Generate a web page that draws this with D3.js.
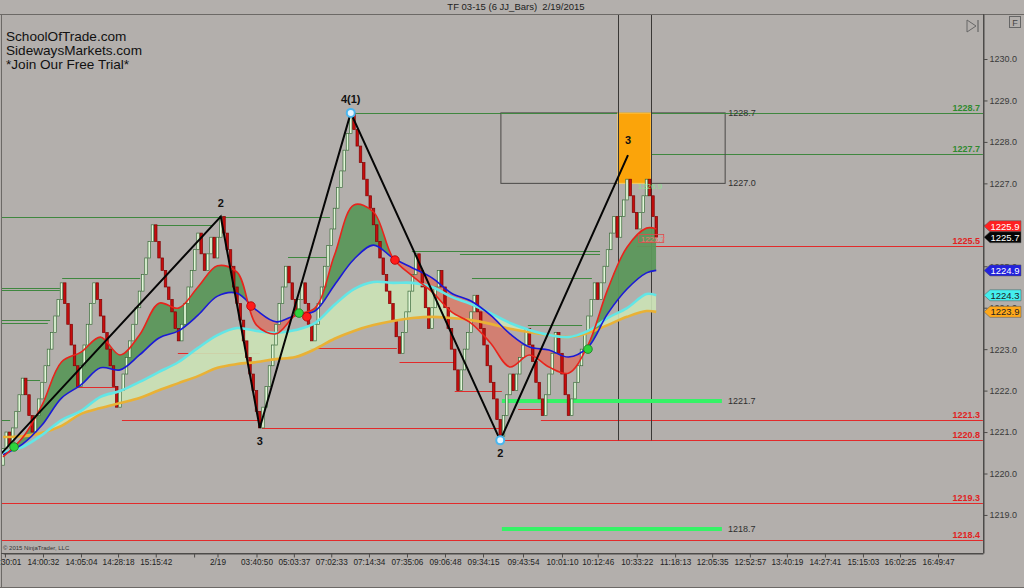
<!DOCTYPE html>
<html><head><meta charset="utf-8">
<script src="https://cdn.jsdelivr.net/npm/d3@7"></script>
<style>
html,body{margin:0;padding:0;background:#b3afac;}
svg{display:block;font-family:Arial,"Liberation Sans",sans-serif;}
</style></head><body>
<svg id="c" width="1024" height="588"></svg>
<script>
// ---------------- DATA ----------------
const chartTitle = "TF 03-15 (6 JJ_Bars)  2/19/2015";
const promoLines = ["SchoolOfTrade.com", "SidewaysMarkets.com", "*Join Our Free Trial*"];
const copyright = "\u00A9 2015 NinjaTrader, LLC";

const firstOpen = 1220.2;
const closes = [
1220.6,1221.0,1220.7,1221.1,1221.5,1221.9,1222.3,1221.9,1221.4,1221.0,
1221.4,1221.8,1222.2,1222.6,1223.0,1223.4,1223.8,1224.2,1224.6,1224.1,
1223.6,1223.1,1222.6,1222.1,1222.6,1223.1,1223.6,1224.1,1224.6,1224.2,
1223.8,1223.4,1223.0,1222.6,1222.1,1221.6,1222.0,1222.4,1222.8,1223.2,
1223.6,1224.0,1224.4,1224.8,1225.2,1225.6,1226.0,1225.6,1225.2,1224.9,
1224.5,1224.2,1223.9,1223.5,1223.2,1223.6,1224.1,1224.5,1224.9,1225.4,
1225.8,1225.3,1224.9,1225.3,1225.7,1225.2,1225.7,1226.2,1225.8,1225.4,
1225.0,1224.5,1224.1,1223.7,1223.2,1222.8,1222.4,1222.0,1221.5,1221.1,
1221.6,1222.1,1222.6,1223.1,1223.6,1224.1,1224.5,1225.0,1224.6,1224.2,
1223.8,1224.2,1224.6,1224.1,1223.6,1223.2,1223.6,1224.1,1224.5,1225.0,
1225.5,1225.9,1226.4,1226.9,1227.3,1227.8,1228.2,1228.7,1228.3,1227.9,
1227.5,1227.1,1226.7,1226.4,1226.0,1225.6,1225.2,1224.8,1224.4,1224.1,
1223.7,1223.3,1222.9,1223.4,1223.9,1224.4,1224.8,1225.3,1224.9,1224.5,
1224.0,1223.5,1224.0,1224.5,1224.9,1224.5,1224.0,1223.5,1223.0,1222.5,
1222.0,1222.5,1223.0,1223.4,1223.9,1224.3,1223.9,1223.5,1223.1,1222.6,
1222.2,1221.8,1221.3,1220.9,1221.4,1221.9,1222.4,1222.0,1222.4,1222.8,
1223.1,1223.5,1223.1,1222.7,1222.2,1221.8,1221.4,1221.9,1222.4,1222.9,
1223.4,1222.9,1222.4,1221.9,1221.4,1221.8,1222.2,1222.6,1223.0,1223.4,
1223.8,1224.2,1224.6,1224.2,1224.6,1225.0,1225.4,1225.8,1226.2,1225.7,
1226.2,1226.6,1227.1,1226.7,1226.3,1225.9,1226.3,1226.7,1227.1,1226.7,
1226.2,1225.7
];

// moving averages sampled at bar positions
const maIdx = [0,6,12,18,24,30,36,42,48,54,60,66,72,78,84,90,96,102,108,114,120,126,132,138,144,150,156,162,168,174,180,186,192,198,201];
const maFast = [1220.40,1220.86,1221.65,1222.69,1222.93,1223.29,1222.86,1223.34,1224.11,1223.99,1224.50,1225.01,1224.86,1223.58,1223.37,1223.82,1223.99,1225.27,1226.48,1226.31,1225.20,1224.76,1224.38,1223.90,1223.63,1223.15,1222.57,1222.86,1222.57,1222.42,1223.10,1224.43,1225.46,1225.92,1225.90];
const maMid = [1220.45,1220.71,1221.17,1221.82,1222.14,1222.55,1222.50,1222.86,1223.27,1223.44,1223.82,1224.28,1224.35,1223.94,1223.66,1223.82,1223.92,1224.55,1225.17,1225.51,1225.20,1224.96,1224.72,1224.35,1224.16,1223.82,1223.37,1223.05,1222.98,1222.81,1223.05,1223.85,1224.45,1224.84,1224.90];
const maSlow = [1220.52,1220.64,1220.93,1221.29,1221.51,1221.85,1221.99,1222.21,1222.45,1222.69,1223.03,1223.34,1223.51,1223.44,1223.39,1223.46,1223.63,1224.07,1224.45,1224.62,1224.60,1224.60,1224.50,1224.26,1224.09,1223.87,1223.63,1223.46,1223.34,1223.29,1223.44,1223.75,1223.99,1224.33,1224.30];
const maLong = [1220.88,1220.90,1220.98,1221.15,1221.44,1221.58,1221.70,1221.82,1222.01,1222.18,1222.35,1222.55,1222.64,1222.69,1222.76,1222.81,1223.00,1223.25,1223.44,1223.58,1223.68,1223.75,1223.78,1223.75,1223.70,1223.61,1223.49,1223.41,1223.34,1223.29,1223.39,1223.58,1223.78,1223.92,1223.90];

// zigzag
const zigIdx = [-0.9, 67, 79, 107, 153, 192.3];
const zigPrice = [1220.45, 1226.2, 1221.1, 1228.7, 1220.8, 1227.68];
const pivotLabels = ["2", "3", "4(1)", "2", "3"];
const pivotSide = ["up", "down", "up", "down", "box"];
const pivotRings = [3, 4]; // zigzag points with a ring marker

// horizontal swing levels: price, from bar, to bar, kind
const levelPrice = [1226.19,1228.7,1227.7,1224.48,1224.43,1224.72,1223.70,1223.63,1222.26,1221.28,1226.0,1225.22,1225.38,1225.30,1224.72,1223.58,
                    1225.5,1221.3,1220.8,1219.3,1218.4,1221.1,1221.3,1222.09,1222.9,1223.03,1222.69,1222.0,1221.55];
const levelFrom  = [-0.9,107.4,192.3,-0.9,-0.9,18.2,-0.9,-0.9,6.2,-0.9,46.2,87.7,125.8,140.6,144.3,161.5,
                    195.1,165.5,153.2,-0.9,-0.9,79.7,36.6,23,53.8,94.5,122,139,158.5];
const levelTo    = [100.6,301.5,301.5,17.5,17.5,42.2,14.5,13.8,11.4,2.2,64.6,100,183.7,183.7,181.2,178.2,
                    301.5,301.5,301.5,301.5,301.5,153.2,78.5,34.5,79,121.2,139,153.5,165.8];
const levelKind  = ["g","g","g","g","g","g","g","g","g","g","g","g","g","g","g","g",
                    "r","r","r","r","r","r","r","r","r","r","r","r","r"];

// labels at right edge of price panel
const edgeLabelPrice = [1228.7,1227.7,1225.5,1221.3,1220.8,1219.3,1218.4];
const edgeLabelKind  = ["g","g","r","r","r","r","r"];

// projection box
const boxFrom = 153.2, boxTo = 222.2, boxHigh = 1228.7, boxLow = 1227.0;
const zoneFrom = 189.2, zoneTo = 199.4;
const boxLabels = ["1228.7", "1227.0"];
const targetPrice = [1221.75, 1218.66];
const targetLabels = ["1221.7", "1218.7"];
const targetFrom = 153.5, targetTo = 221.2;
const vlineIdx = [189.2, 199.4];
const vlineBottom = 1220.8;

// signal dots
const dotIdx = [3.4, 91.1, 180, 76.3, 93.5, 120.6];
const dotPrice = [1220.64, 1223.87, 1223.0, 1224.04, 1223.78, 1225.15];
const dotKind = ["g","g","g","r","r","r"];

// small tags on chart
const smallTag = {idx: 195.6, price: 1225.62, text: "1225.7"};
const fadedTag = {idx: 195.3, price: 1226.93, text: "1226.9"};

// right axis tags
const tagPrice = [1225.9, 1225.7, 1224.9, 1224.3, 1223.9];
const tagKind  = ["fast","last","mid","slow","long"];

// price axis
const yTicks = [1219,1220,1221,1222,1223,1224,1225,1226,1227,1228,1229,1230];
// time axis (bar slot positions)
const xTickIdx = [0.6,12.3,24,35.4,47,58.8,66,78,89.5,101,112.6,124.3,136,147.7,160,172,183,195,206.8,218.2,229.8,241.2,252.9,264.6,276,287.7];
const xTickLabels = ["13:30:01","14:00:32","14:05:04","14:28:18","15:15:42","","2/19","03:40:50","05:03:37","07:02:33","07:14:34","07:35:06","09:06:48","09:34:15","09:43:54","10:01:10","10:12:46","10:33:22","11:18:13","12:05:35","12:52:57","13:40:19","14:27:41","15:15:03","16:02:25","16:49:47"];

// ---------------- DRAW ----------------
const svg = d3.select("#c");
const P = {l:1, r:983, t:14, b:553};
const x = d3.scaleLinear().domain([0, 301.54]).range([3, 983]);
const y = d3.scaleLinear().domain([1218.082, 1231.086]).range([553, 14]);

const COL = {bg:"#b3afac", g:"#3f873f", r:"#e22a2a", fast:"#e8241c", mid:"#1a1ad6", slow:"#62e6e6", long:"#e9b136"};

svg.append("rect").attr("width",1024).attr("height",588).attr("fill",COL.bg);

const defs = svg.append("defs");
defs.append("clipPath").attr("id","plotClip").append("rect")
  .attr("x",P.l).attr("y",P.t).attr("width",P.r-P.l).attr("height",P.b-P.t);

const ma = maIdx.map((i,k)=>({i, f:maFast[k], m:maMid[k], s:maSlow[k], o:maLong[k]}));
const curve = d3.curveCatmullRom;

const above = key => d3.area().x(d=>x(d.i)).y0(d=>y(d[key])).y1(-50).curve(curve);
const below = key => d3.area().x(d=>x(d.i)).y0(d=>y(d[key])).y1(700).curve(curve);
defs.append("clipPath").attr("id","aboveMid").append("path").attr("d", above("m")(ma));
defs.append("clipPath").attr("id","belowMid").append("path").attr("d", below("m")(ma));
defs.append("clipPath").attr("id","aboveLong").append("path").attr("d", above("o")(ma));

const root = svg.append("g").attr("clip-path","url(#plotClip)");

// title
svg.append("text").attr("x",516).attr("y",10).attr("text-anchor","middle").style("white-space","pre")
  .attr("font-size",9.5).attr("fill","#222").text(chartTitle);

// frame lines
svg.append("line").attr("x1",0).attr("x2",1024).attr("y1",14.5).attr("y2",14.5).attr("stroke","#6c6966");
svg.append("line").attr("x1",1.5).attr("x2",1.5).attr("y1",14).attr("y2",588).attr("stroke","#6c6966");
svg.append("line").attr("x1",0).attr("x2",1024).attr("y1",587.5).attr("y2",587.5).attr("stroke","#6c6966");

// swing levels
const lv = root.append("g");
levelPrice.forEach((p,k)=>{
  lv.append("line").attr("x1",x(levelFrom[k])).attr("x2",x(levelTo[k]))
    .attr("y1",Math.round(y(p))+0.5).attr("y2",Math.round(y(p))+0.5)
    .attr("stroke", levelKind[k]==="g"?COL.g:COL.r).attr("stroke-width",1);
});

// projection box
lv.append("rect").attr("x",x(boxFrom)).attr("y",y(boxHigh)).attr("width",x(boxTo)-x(boxFrom))
  .attr("height",y(boxLow)-y(boxHigh)).attr("fill","none").attr("stroke","#4a4846").attr("stroke-width",1);
lv.append("line").attr("x1",x(boxFrom)).attr("x2",x(301.5)).attr("y1",Math.round(y(boxHigh))+0.5).attr("y2",Math.round(y(boxHigh))+0.5).attr("stroke",COL.g);
lv.append("rect").attr("x",x(zoneFrom)).attr("y",y(boxHigh)).attr("width",x(zoneTo)-x(zoneFrom))
  .attr("height",y(boxLow)-y(boxHigh)).attr("fill","#fba40a").attr("stroke","#ffd36a").attr("stroke-width",1);
vlineIdx.forEach(i=>{
  lv.append("line").attr("x1",Math.round(x(i))+0.5).attr("x2",Math.round(x(i))+0.5)
    .attr("y1",P.t).attr("y2",y(vlineBottom)).attr("stroke","#3a3836").attr("stroke-width",1);
});
targetPrice.forEach(p=>{
  lv.append("line").attr("x1",x(targetFrom)).attr("x2",x(targetTo)).attr("y1",y(p)).attr("y2",y(p))
    .attr("stroke","#35f266").attr("stroke-width",4);
});

// indicator fills
const band = (a,b)=>d3.area().x(d=>x(d.i)).y0(d=>y(d[a])).y1(d=>y(d[b])).curve(curve);
root.append("path").attr("d",band("o","s")(ma)).attr("fill","#cbe3b6").attr("opacity",0.9).attr("clip-path","url(#aboveLong)");
root.append("path").attr("d",band("m","f")(ma)).attr("fill","#5c975b").attr("opacity",0.95).attr("clip-path","url(#aboveMid)");
root.append("path").attr("d",band("m","f")(ma)).attr("fill","#d57a6c").attr("opacity",0.9).attr("clip-path","url(#belowMid)");

// bars
const bw = 2.5;
const bars = root.append("g");
closes.forEach((c,i)=>{
  const o = i===0 ? firstOpen : closes[i-1];
  const up = c >= o;
  const y1 = y(Math.max(o,c)), y2 = y(Math.min(o,c));
  bars.append("rect").attr("x",x(i)-bw/2).attr("y",y1).attr("width",bw).attr("height",Math.max(1,y2-y1))
    .attr("fill", up?"#e2f7d8":"#c60d0d").attr("stroke", up?"#3b6a3b":"#7d0505").attr("stroke-width",0.7);
});

// indicator lines
const line = key=>d3.line().x(d=>x(d.i)).y(d=>y(d[key])).curve(curve);
root.append("path").attr("d",line("o")(ma)).attr("fill","none").attr("stroke",COL.long).attr("stroke-width",2.6);
root.append("path").attr("d",line("s")(ma)).attr("fill","none").attr("stroke",COL.slow).attr("stroke-width",2.6);
root.append("path").attr("d",line("m")(ma)).attr("fill","none").attr("stroke",COL.mid).attr("stroke-width",1.6);
root.append("path").attr("d",line("f")(ma)).attr("fill","none").attr("stroke",COL.fast).attr("stroke-width",1.6);

// small tags
root.append("rect").attr("x",x(smallTag.idx)).attr("y",y(smallTag.price)-6).attr("width",25).attr("height",8)
  .attr("fill","none").attr("stroke","#e24a4a").attr("stroke-width",0.8);
root.append("text").attr("x",x(smallTag.idx)+2).attr("y",y(smallTag.price)+1).attr("font-size",8)
  .attr("fill","#f07070").text(smallTag.text);
root.append("text").attr("x",x(fadedTag.idx)).attr("y",y(fadedTag.price)+3).attr("font-size",8)
  .attr("fill","#8ee08e").text(fadedTag.text);

// zigzag
const zig = zigIdx.map((i,k)=>({i, p:zigPrice[k]}));
root.append("path").attr("d", d3.line().x(d=>x(d.i)).y(d=>y(d.p))(zig))
  .attr("fill","none").attr("stroke","#050505").attr("stroke-width",2);
pivotRings.forEach(k=>{
  root.append("circle").attr("cx",x(zigIdx[k])).attr("cy",y(zigPrice[k])).attr("r",4)
    .attr("fill","#e6f5ff").attr("stroke","#4ab6ee").attr("stroke-width",2);
});
pivotLabels.forEach((t,j)=>{
  const k=j+1, side=pivotSide[j];
  const yy = side==="up" ? y(zigPrice[k])-10 : side==="down" ? y(zigPrice[k])+17 : y(zigPrice[k])-11;
  root.append("text").attr("x",x(zigIdx[k])).attr("y",yy).attr("text-anchor","middle")
    .attr("font-size",11).attr("font-weight","bold").attr("fill","#111").text(t);
});

// signal dots
dotIdx.forEach((i,k)=>{
  root.append("circle").attr("cx",x(i)).attr("cy",y(dotPrice[k])).attr("r",4.3)
    .attr("fill", dotKind[k]==="g"?"#2ed33c":"#ff1b1b").attr("stroke", dotKind[k]==="g"?"#1c7a22":"#b00000").attr("stroke-width",0.8);
});

// level labels
edgeLabelPrice.forEach((p,k)=>{
  svg.append("text").attr("x",980).attr("y",y(p)-2).attr("text-anchor","end")
    .attr("font-size",9).attr("font-weight","bold").attr("fill", edgeLabelKind[k]==="g"?"#2f8a2f":"#e02222").text(p.toFixed(1));
});
[boxHigh, boxLow].forEach((p,k)=>{
  svg.append("text").attr("x",x(boxTo)+3).attr("y",y(p)+3).attr("font-size",9).attr("fill","#2e2e2e").text(boxLabels[k]);
});
targetPrice.forEach((p,k)=>{
  svg.append("text").attr("x",x(targetTo)+6).attr("y",y(p)+3).attr("font-size",9).attr("fill","#2e2e2e").text(targetLabels[k]);
});

// promo text
promoLines.forEach((t,k)=>{
  svg.append("text").attr("x",6).attr("y",41+k*14).attr("font-size",13.6).attr("fill","#111").text(t);
});
svg.append("text").attr("x",3).attr("y",550).attr("font-size",6).attr("fill","#333").text(copyright);

// price axis
const yAxis = d3.axisRight(y).tickValues(yTicks).tickFormat(d3.format(".1f")).tickSize(4).tickSizeOuter(0).tickPadding(2);
const ya = svg.append("g").attr("transform","translate(983.5,0)").call(yAxis);
ya.select(".domain").attr("stroke","#4d4b49");
ya.selectAll(".tick line").attr("stroke","#4d4b49");
ya.selectAll("text").attr("font-size",9).attr("fill","#3a3a3a").attr("font-family","Arial, Liberation Sans, sans-serif");
svg.append("line").attr("x1",983.5).attr("x2",983.5).attr("y1",P.t).attr("y2",P.b).attr("stroke","#4d4b49");

// time axis
const xAxis = d3.axisBottom(x).tickValues(xTickIdx).tickFormat((d,k)=>xTickLabels[k]).tickSize(4).tickSizeOuter(0).tickPadding(2);
const xa = svg.append("g").attr("transform","translate(0,553.5)").call(xAxis);
xa.select(".domain").attr("stroke","#4d4b49");
xa.selectAll(".tick line").attr("stroke","#4d4b49");
xa.selectAll("text").attr("font-size",8.2).attr("fill","#222").attr("font-family","Arial, Liberation Sans, sans-serif");
svg.append("line").attr("x1",1).attr("x2",983.5).attr("y1",553.5).attr("y2",553.5).attr("stroke","#4d4b49");

// right axis tags
const tagCol = {fast:["#ff2020","#fff"], last:["#050505","#fff"], mid:["#2222dd","#fff"], slow:["#44eeee","#222"], long:["#ffa81a","#222"]};
const tpos = tagPrice.map(p=>y(p));
for (let k=tpos.length-2;k>=0;k--){ if (tpos[k+1]-tpos[k] < 11) tpos[k] = tpos[k+1]-11; }
tagPrice.forEach((p,k)=>{
  const yc = tpos[k], c = tagCol[tagKind[k]];
  svg.append("path").attr("d",`M984,${yc} L990,${yc-5.5} L1021,${yc-5.5} L1021,${yc+5.5} L990,${yc+5.5} Z`)
    .attr("fill",c[0]).attr("stroke","#555").attr("stroke-width",0.5);
  svg.append("text").attr("x",1005).attr("y",yc+3.5).attr("text-anchor","middle").attr("font-size",9.5)
    .attr("fill",c[1]).text(p.toFixed(1));
});

// corner icons
svg.append("rect").attr("x",1009.5).attr("y",16.5).attr("width",11).attr("height",11).attr("fill","none").attr("stroke","#666");
svg.append("text").attr("x",1015).attr("y",25.5).attr("text-anchor","middle").attr("font-size",9).attr("fill","#444").text("F");
svg.append("path").attr("d","M967,20 L967,32 L976,26 Z").attr("fill","none").attr("stroke","#666").attr("stroke-width",1);
svg.append("line").attr("x1",978).attr("x2",978).attr("y1",20).attr("y2",32).attr("stroke","#666").attr("stroke-width",1.2);
</script>
</body></html>
